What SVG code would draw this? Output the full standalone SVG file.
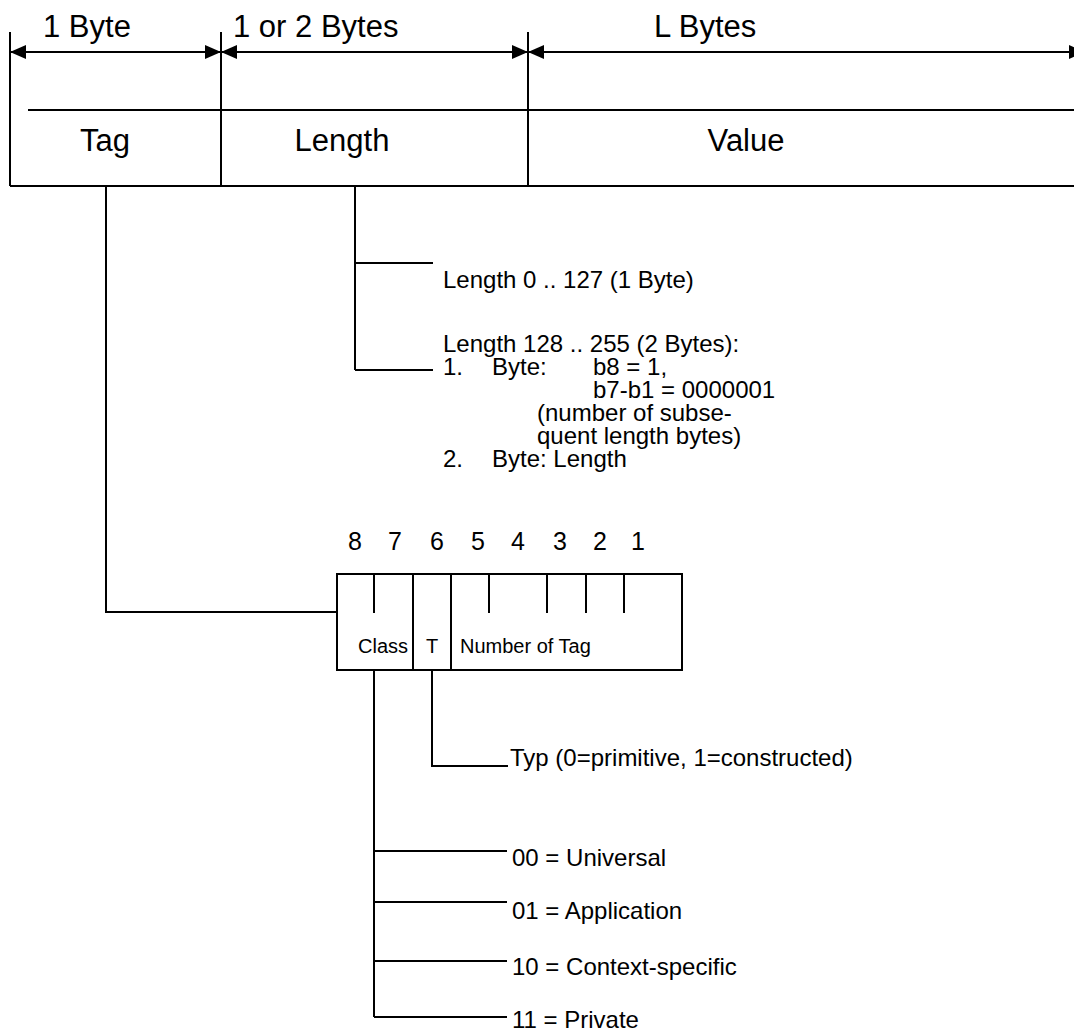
<svg xmlns="http://www.w3.org/2000/svg" width="1074" height="1032" viewBox="0 0 1074 1032">
<defs>
<style>
.ln { stroke: #000; stroke-width: 2; fill: none; }
text { font-family: "Liberation Sans", Arial, sans-serif; fill: #000; }
.big { font-size: 31px; }
.mid { font-size: 24px; }
.small { font-size: 20px; }
</style>
<marker id="ah" viewBox="0 0 16 14" markerUnits="userSpaceOnUse" markerWidth="16" markerHeight="14" refX="16" refY="7" orient="auto-start-reverse">
<path d="M0,0 L16,7 L0,14 z" fill="#000"/>
</marker>
</defs>
<rect width="1074" height="1032" fill="#fff"/>

<g id="dimensions">
<line class="ln" x1="10" y1="32" x2="10" y2="186"/>
<line class="ln" x1="221" y1="32" x2="221" y2="186"/>
<line class="ln" x1="528" y1="32" x2="528" y2="186"/>
<line class="ln" x1="10" y1="52" x2="221" y2="52" marker-start="url(#ah)" marker-end="url(#ah)"/>
<line class="ln" x1="221" y1="52" x2="528" y2="52" marker-start="url(#ah)" marker-end="url(#ah)"/>
<line class="ln" x1="528" y1="52" x2="1085" y2="52" marker-start="url(#ah)" marker-end="url(#ah)"/>
<text class="big" x="43" y="37">1 Byte</text>
<text class="big" x="233" y="37">1 or 2 Bytes</text>
<text class="big" x="654" y="37">L Bytes</text>
</g>

<g id="tlv-record">
<line class="ln" x1="28" y1="110" x2="1074" y2="110"/>
<line class="ln" x1="10" y1="186" x2="1074" y2="186"/>
</g>
<g id="tag-field"><text class="big" x="105" y="151" text-anchor="middle">Tag</text></g>
<g id="length-field"><text class="big" x="342" y="151" text-anchor="middle">Length</text></g>
<g id="value-field"><text class="big" x="746" y="151" text-anchor="middle">Value</text></g>

<g id="length-short"><text class="mid" x="443" y="288">Length 0 .. 127 (1 Byte)</text></g>
<g id="length-long">
<text class="mid" x="443" y="352">Length 128 .. 255 (2 Bytes):</text>
<text class="mid" x="443" y="375">1.</text>
<text class="mid" x="492" y="375">Byte:</text>
<text class="mid" x="593" y="375">b8 = 1,</text>
<text class="mid" x="593" y="398">b7-b1 = 0000001</text>
<text class="mid" x="537" y="421">(number of subse-</text>
<text class="mid" x="537" y="444">quent length bytes)</text>
<text class="mid" x="443" y="467">2.</text>
<text class="mid" x="492" y="467">Byte: Length</text>
</g>

<g id="tag-byte">
<text class="mid" y="550" text-anchor="middle" style="font-size:25px"><tspan x="355">8</tspan><tspan x="395">7</tspan><tspan x="437">6</tspan><tspan x="478">5</tspan><tspan x="518">4</tspan><tspan x="560">3</tspan><tspan x="600">2</tspan><tspan x="638">1</tspan></text>
<rect class="ln" x="337" y="574" width="345" height="96"/>
<line class="ln" x1="413" y1="574" x2="413" y2="670"/>
<line class="ln" x1="451" y1="574" x2="451" y2="670"/>
<line class="ln" x1="374" y1="574" x2="374" y2="613"/>
<line class="ln" x1="489" y1="574" x2="489" y2="613"/>
<line class="ln" x1="547" y1="574" x2="547" y2="613"/>
<line class="ln" x1="586" y1="574" x2="586" y2="613"/>
<line class="ln" x1="624" y1="574" x2="624" y2="613"/>
<text class="small" x="358" y="653">Class</text>
<text class="small" x="432" y="653" text-anchor="middle">T</text>
<text class="small" x="460" y="653">Number of Tag</text>
</g>

<g id="typ"><text class="mid" x="510" y="766">Typ (0=primitive, 1=constructed)</text></g>
<g id="class-00"><text class="mid" x="512" y="866">00 = Universal</text></g>
<g id="class-01"><text class="mid" x="512" y="919">01 = Application</text></g>
<g id="class-10"><text class="mid" x="512" y="975">10 = Context-specific</text></g>
<g id="class-11"><text class="mid" x="512" y="1028">11 = Private</text></g>

<g id="connectors">
<polyline class="ln" points="106,186 106,612 337,612"/>
<line class="ln" x1="355" y1="186" x2="355" y2="370"/>
<line class="ln" x1="355" y1="263" x2="433" y2="263"/>
<line class="ln" x1="355" y1="370" x2="433" y2="370"/>
<polyline class="ln" points="432,670 432,766 508,766"/>
<line class="ln" x1="374" y1="670" x2="374" y2="1017"/>
<line class="ln" x1="374" y1="851" x2="507" y2="851"/>
<line class="ln" x1="374" y1="902" x2="507" y2="902"/>
<line class="ln" x1="374" y1="961" x2="507" y2="961"/>
<line class="ln" x1="374" y1="1017" x2="507" y2="1017"/>
</g>
</svg>
